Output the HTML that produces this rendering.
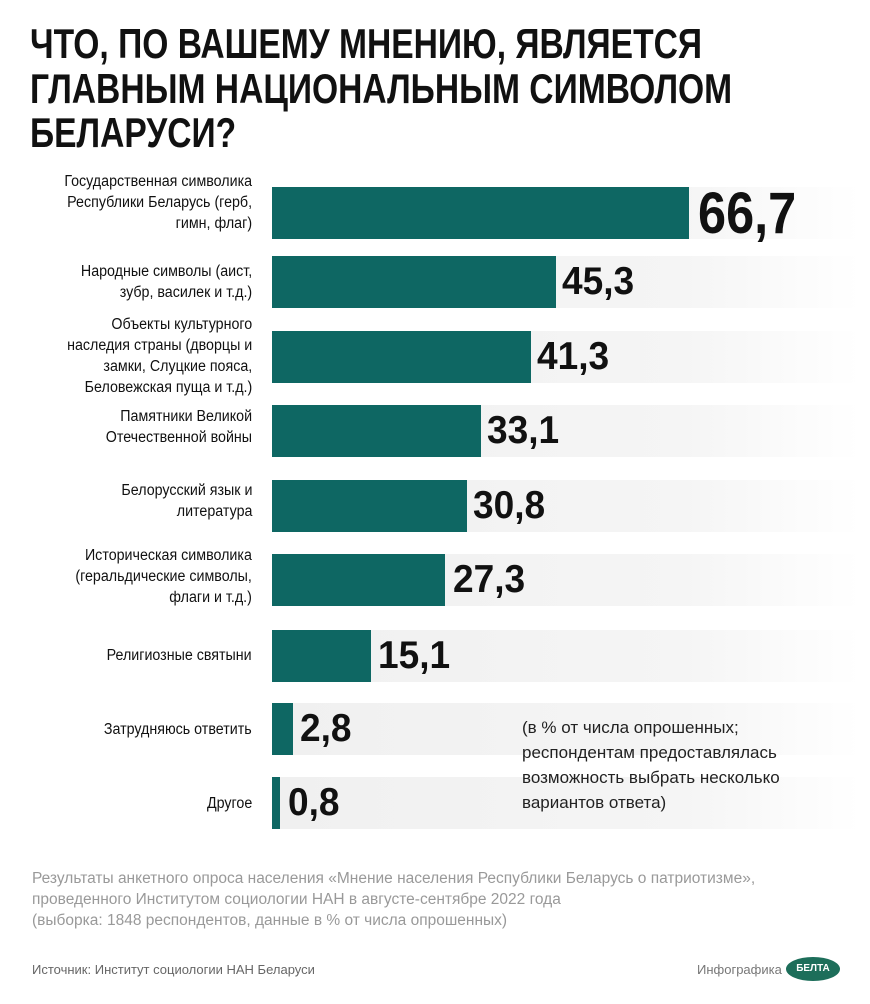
<!DOCTYPE html>
<html><head><meta charset="utf-8"><style>
body{margin:0;width:870px;height:1004px;background:#fff;position:relative;overflow:hidden;font-family:"Liberation Sans",sans-serif;}
.t{position:absolute;left:30px;font-weight:bold;font-size:42px;line-height:44px;color:#111;white-space:nowrap;transform:scaleX(0.8);transform-origin:left top;}
.row{position:absolute;left:0;width:870px;height:52px;}
.bg{position:absolute;left:272px;top:0;height:52px;width:588px;background:linear-gradient(90deg,#f0f0f0,#f5f5f5 70%,#fff);}
.bar{position:absolute;left:272px;top:0;height:52px;background:#0e6763;}
.lab{position:absolute;right:618px;text-align:right;font-size:15.5px;line-height:21px;color:#111;white-space:nowrap;transform:scaleX(0.92);transform-origin:right top;}
.v{position:absolute;font-weight:bold;font-size:39px;line-height:52px;color:#111;top:0;transform:scaleX(0.95);transform-origin:left top;}
.foot{position:absolute;left:32px;top:868px;font-size:15.5px;line-height:21px;color:#999;}
.note{position:absolute;left:522px;top:715px;font-size:17px;line-height:25px;color:#222;}
</style></head><body>
<div class="t" style="top:22px">ЧТО, ПО ВАШЕМУ МНЕНИЮ, ЯВЛЯЕТСЯ</div>
<div class="t" style="top:67px">ГЛАВНЫМ НАЦИОНАЛЬНЫМ СИМВОЛОМ</div>
<div class="t" style="top:111px">БЕЛАРУСИ?</div>

<div class="row" style="top:187px"><div class="bg"></div><div class="bar" style="width:417px"></div><div class="v" style="left:698px;font-size:58px;line-height:54px;transform:scaleX(0.87)">66,7</div></div>
<div class="lab" style="top:171px">Государственная символика<br>Республики Беларусь (герб,<br>гимн, флаг)</div>

<div class="row" style="top:256px"><div class="bg"></div><div class="bar" style="width:284px"></div><div class="v" style="left:562px">45,3</div></div>
<div class="lab" style="top:261px">Народные символы (аист,<br>зубр, василек и т.д.)</div>

<div class="row" style="top:331px"><div class="bg"></div><div class="bar" style="width:259px"></div><div class="v" style="left:537px">41,3</div></div>
<div class="lab" style="top:314px">Объекты культурного<br>наследия страны (дворцы и<br>замки, Слуцкие пояса,<br>Беловежская пуща и т.д.)</div>

<div class="row" style="top:405px"><div class="bg"></div><div class="bar" style="width:209px"></div><div class="v" style="left:487px">33,1</div></div>
<div class="lab" style="top:406px">Памятники Великой<br>Отечественной войны</div>

<div class="row" style="top:480px"><div class="bg"></div><div class="bar" style="width:195px"></div><div class="v" style="left:473px">30,8</div></div>
<div class="lab" style="top:480px">Белорусский язык и<br>литература</div>

<div class="row" style="top:554px"><div class="bg"></div><div class="bar" style="width:173px"></div><div class="v" style="left:453px">27,3</div></div>
<div class="lab" style="top:545px">Историческая символика<br>(геральдические символы,<br>флаги и т.д.)</div>

<div class="row" style="top:630px"><div class="bg"></div><div class="bar" style="width:99px"></div><div class="v" style="left:378px">15,1</div></div>
<div class="lab" style="top:645px">Религиозные святыни</div>

<div class="row" style="top:703px"><div class="bg"></div><div class="bar" style="width:21px"></div><div class="v" style="left:300px">2,8</div></div>
<div class="lab" style="top:719px">Затрудняюсь ответить</div>

<div class="row" style="top:777px"><div class="bg"></div><div class="bar" style="width:8px"></div><div class="v" style="left:288px">0,8</div></div>
<div class="lab" style="top:793px">Другое</div>

<div class="note">(в % от числа опрошенных;<br>респондентам предоставлялась<br>возможность выбрать несколько<br>вариантов ответа)</div>

<div class="foot">Результаты анкетного опроса населения «Мнение населения Республики Беларусь о патриотизме»,<br>проведенного Институтом социологии НАН в августе-сентябре 2022 года<br>(выборка: 1848 респондентов, данные в % от числа опрошенных)</div>

<div style="position:absolute;left:32px;top:962px;font-size:13px;color:#666">Источник: Институт социологии НАН Беларуси</div>
<div style="position:absolute;left:697px;top:962px;font-size:13px;color:#777">Инфографика</div>
<div style="position:absolute;left:786px;top:957px;width:54px;height:24px;border-radius:50%;background:#1d6e5a;color:#fff;font-size:10px;font-weight:bold;text-align:center;line-height:24px">БЕЛТА</div>
</body></html>
